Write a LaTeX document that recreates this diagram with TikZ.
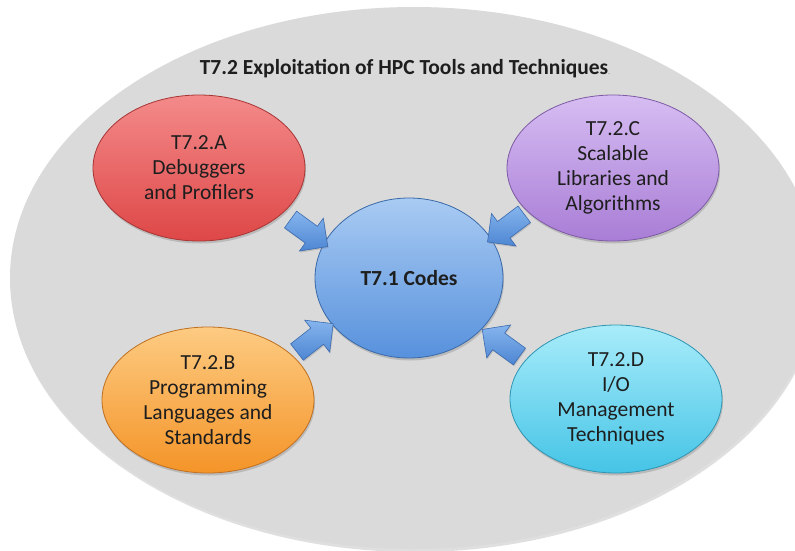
\documentclass[tikz,border=0pt]{standalone}
\usepackage{fontspec}
\setmainfont{Carlito}
\usetikzlibrary{shapes.geometric,shapes.arrows,shadows}
\definecolor{bggray}{HTML}{DADADA}
\definecolor{txt}{HTML}{1E1E1E}
\definecolor{redT}{HTML}{F48A8A}\definecolor{redB}{HTML}{DE4747}\definecolor{redD}{HTML}{A83434}
\definecolor{purT}{HTML}{D6BDF2}\definecolor{purB}{HTML}{A97DD6}\definecolor{purD}{HTML}{7E5AA6}
\definecolor{orgT}{HTML}{FDCB82}\definecolor{orgB}{HTML}{F49428}\definecolor{orgD}{HTML}{C07020}
\definecolor{cyaT}{HTML}{A8ECFA}\definecolor{cyaB}{HTML}{45C4E6}\definecolor{cyaD}{HTML}{2E95B2}
\definecolor{bluT}{HTML}{A9CBF3}\definecolor{bluB}{HTML}{5791DC}\definecolor{bluD}{HTML}{3A69A8}
\definecolor{arrT}{HTML}{86B5EE}\definecolor{arrB}{HTML}{4D86D2}\definecolor{arrD}{HTML}{3B6AAE}
\tikzset{
  bubble/.style={ellipse, inner sep=0pt, align=center, text=txt,
    minimum width=212pt, minimum height=146pt, line width=0.8pt,
    font=\fontsize{21.5}{25}\selectfont,
    drop shadow={shadow xshift=1pt, shadow yshift=-2.5pt, opacity=0.35}},
  blockarrow/.style={single arrow, inner xsep=0pt, inner ysep=10pt, minimum height=46pt,
    single arrow head extend=10pt,
    top color=arrT, bottom color=arrB, draw=arrD, line width=0.6pt,
    drop shadow={shadow xshift=0.8pt, shadow yshift=-1.5pt, opacity=0.3}},
}
\begin{document}
\begin{tikzpicture}[x=1pt,y=-1pt]
\useasboundingbox (0,0) rectangle (795,550);
\clip (0,0) rectangle (795,550);
\fill[white] (0,0) rectangle (795,550);
% background ellipse
\node[ellipse, minimum width=808pt, minimum height=542pt, inner sep=0pt,
  fill=bggray, drop shadow={shadow xshift=1pt, shadow yshift=-3pt, opacity=0.25}] (bg) at (414,278) {};
\node[font=\fontsize{21.5}{25}\selectfont\bfseries, text=txt] (title) at (405,69)
  {T7.2 Exploitation of HPC Tools and Techniques{\fontsize{8}{8}\selectfont\mdseries\color{gray}.}};
% bubbles
\node[bubble, top color=redT, bottom color=redB, draw=redD] (A) at (199,168)
  {T7.2.A\\Debuggers\\and Profilers};
\node[bubble, top color=purT, bottom color=purB, draw=purD] (C) at (613,168)
  {T7.2.C\\Scalable\\Libraries and\\Algorithms};
\node[bubble, top color=orgT, bottom color=orgB, draw=orgD] (B) at (208,400)
  {T7.2.B\\Programming\\Languages and\\Standards};
\node[bubble, top color=cyaT, bottom color=cyaB, draw=cyaD, minimum height=148pt] (D) at (616,399)
  {T7.2.D\\I/O\\Management\\Techniques};
\node[bubble, top color=bluT, bottom color=bluB, draw=bluD, minimum width=188pt,
  minimum height=160pt, font=\fontsize{21.5}{25}\selectfont\bfseries] (T) at (409,278)
  {T7.1 Codes};
% block arrows
\node[blockarrow, rotate=-36] (aA) at (305,230) {};
\node[blockarrow, rotate=38] (aB) at (311,341) {};
\node[blockarrow, rotate=-143] (aC) at (510,225) {};
\node[blockarrow, rotate=144] (aD) at (505,346) {};
\end{tikzpicture}
\end{document}
